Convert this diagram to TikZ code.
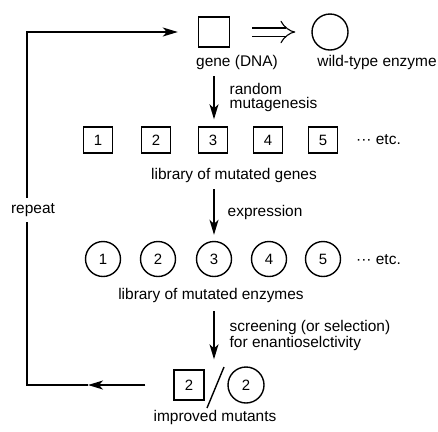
\documentclass[tikz,border=0pt]{standalone}
\usepackage{fontspec}
\setmainfont{Liberation Sans}
\usepackage{tikz}
\usetikzlibrary{arrows.meta,positioning,calc}

\begin{document}
\begin{tikzpicture}[x=1bp,y=-1bp,
    caixa/.style={draw,line width=1.4bp,minimum width=29bp,minimum height=26bp,inner sep=0pt,font=\fontsize{15}{15}\selectfont},
    circulo/.style={draw,circle,line width=1.4bp,minimum size=35bp,inner sep=0pt,font=\fontsize{15}{15}\selectfont},
    rotulo/.style={font=\fontsize{15.5}{14}\selectfont,inner sep=1bp},
    passo/.style={rotulo,anchor=west,align=left},
    seta/.style={-{Stealth[length=15bp,width=9bp,inset=4bp]},line width=1.4bp}]
  \useasboundingbox (0,0) rectangle (438,431);
  % gene e enzima original
  \node[caixa,minimum width=31bp,minimum height=30bp] (gene) at (214,32) {};
  \node[circulo,minimum size=36bp] (wt) at (330,32) {};
  \draw[line width=1.1bp,double distance=7bp,-{Implies[length=6bp]},shorten <=22bp,shorten >=16bp] (gene) -- (wt);
  \node[rotulo] (dna) at (237,63) {gene (DNA)};
  \node[rotulo] (wtlbl) at (377,63) {wild-type enzyme};
  % biblioteca de genes
  \foreach \i/\x in {1/98,2/156,3/213,4/268,5/323}
    \node[caixa] (g\i) at (\x,140) {\i};
  \node[passo] (etc1) at (355,140) {··· etc.};
  \node[rotulo] (libgenes) at (234,175) {library of mutated genes};
  % biblioteca de enzimas
  \foreach \i/\x in {1/103,2/158,3/214,4/269,5/323}
    \node[circulo] (c\i) at (\x,259) {\i};
  \node[passo] (etc2) at (355,260) {··· etc.};
  \node[rotulo] (libenz) at (211,295) {library of mutated enzymes};
  % mutantes melhorados
  \node[caixa,minimum width=30bp,minimum height=30bp] (mutg) at (189,385) {2};
  \node[circulo,minimum size=36bp] (mutc) at (246,385) {2};
  \coordinate (barraA) at (207,408);
  \coordinate (barraB) at (224,367);
  \draw[line width=1.4bp] (barraA) -- (barraB);
  \node[rotulo] (improved) at (215,417) {improved mutants};
  % setas principais
  \draw[seta] ([yshift=-5bp]dna.south -| c3) -- ([yshift=7bp]g3.north -| c3)
    node[passo,midway,right=14bp] (mutag) {random\\mutagenesis};
  \draw[seta] ([yshift=-6bp]libgenes.south -| c3) -- ([yshift=6bp]c3.north)
    node[passo,midway,right=12bp] (expr) {expression};
  \draw[seta] ([yshift=-8bp]libenz.south -| c3) -- ([yshift=10bp]c3 |- mutg.north)
    node[passo,midway,right=14bp] (screen) {screening (or selection)\\for enantioselctivity};
  % ciclo de repeticao
  \coordinate (meio) at (88,385);
  \coordinate (canto) at (27,385);
  \draw[seta] ([xshift=-28bp]mutg.west) -- (meio);
  \draw[seta] (meio) -- (canto) |- ([xshift=-20bp]gene.west);
  \node[rotulo,fill=white,inner sep=5bp] (repeat) at (33,210) {repeat};
\end{tikzpicture}
\end{document}
